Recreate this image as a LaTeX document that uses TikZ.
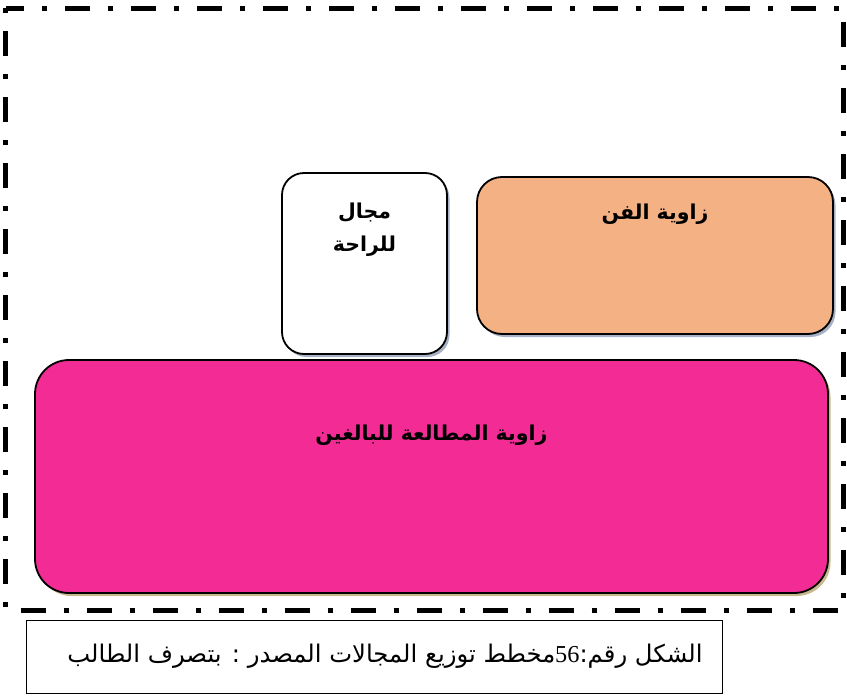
\documentclass[tikz,border=0pt]{standalone}
\usepackage{fontspec}
\newfontfamily\arabicfont[Script=Arabic]{DejaVu Sans}
\newfontfamily\latinserif{Liberation Serif}
\TeXXeTstate=1
\usetikzlibrary{positioning}
\definecolor{zorange}{HTML}{F4B183}
\definecolor{zmagenta}{HTML}{F22B95}
\definecolor{zshadowblue}{HTML}{A7B1C6}
\definecolor{zshadowtan}{HTML}{C8B88E}
\tikzset{
  zone/.style={draw=black,line width=1.8pt,inner sep=0pt,
               preaction={fill=#1,transform canvas={xshift=2.5pt,yshift=-3pt}}},
  zlab/.style={font=\arabicfont\bfseries\fontsize{20.5}{33}\selectfont,
               align=center,inner sep=0pt,anchor=north},
  capbox/.style={draw=black,line width=0.9pt,inner sep=0pt,
                 font=\arabicfont\fontsize{24.3}{27}\selectfont},
  frame/.style={line width=5pt,dash pattern=on 5pt off 18pt on 25pt off 18pt},
}
\begin{document}
\begin{tikzpicture}[x=1pt,y=-1pt]
  \useasboundingbox (0,0) rectangle (847,699);
  % outer dash-dot border
  \draw[frame] (5.5,8) rectangle (843,610);
  % zones
  \node[zone=zshadowblue,fill=white,rounded corners=22pt,
        minimum width=165pt,minimum height=181pt] (rest) at (364.5,263.5) {};
  \node[zone=zshadowblue,fill=zorange,rounded corners=25pt,
        minimum width=356pt,minimum height=157pt] (art) at (655,255.5) {};
  \node[zone=zshadowtan,fill=zmagenta,rounded corners=34pt,
        minimum width=793pt,minimum height=233pt] (read) at (431.5,476.5) {};
  \node[zlab,below=31pt of rest.north] (restlab) {\beginR مجال\endR\\\beginR للراحة\endR};
  \node[zlab,below=28pt of art.north] (artlab) {\beginR زاوية الفن\endR};
  \node[zlab,below=66pt of read.north] (readlab) {\beginR زاوية المطالعة للبالغين\endR};
  % caption
  \node[capbox,minimum width=696pt,minimum height=73pt] (cap) at (374,656.5)
    {\hspace*{22pt}\beginR الشكل رقم:{\latinserif\beginL 56\endL}مخطط توزيع المجالات المصدر : بتصرف الطالب\endR};
\end{tikzpicture}
\end{document}
